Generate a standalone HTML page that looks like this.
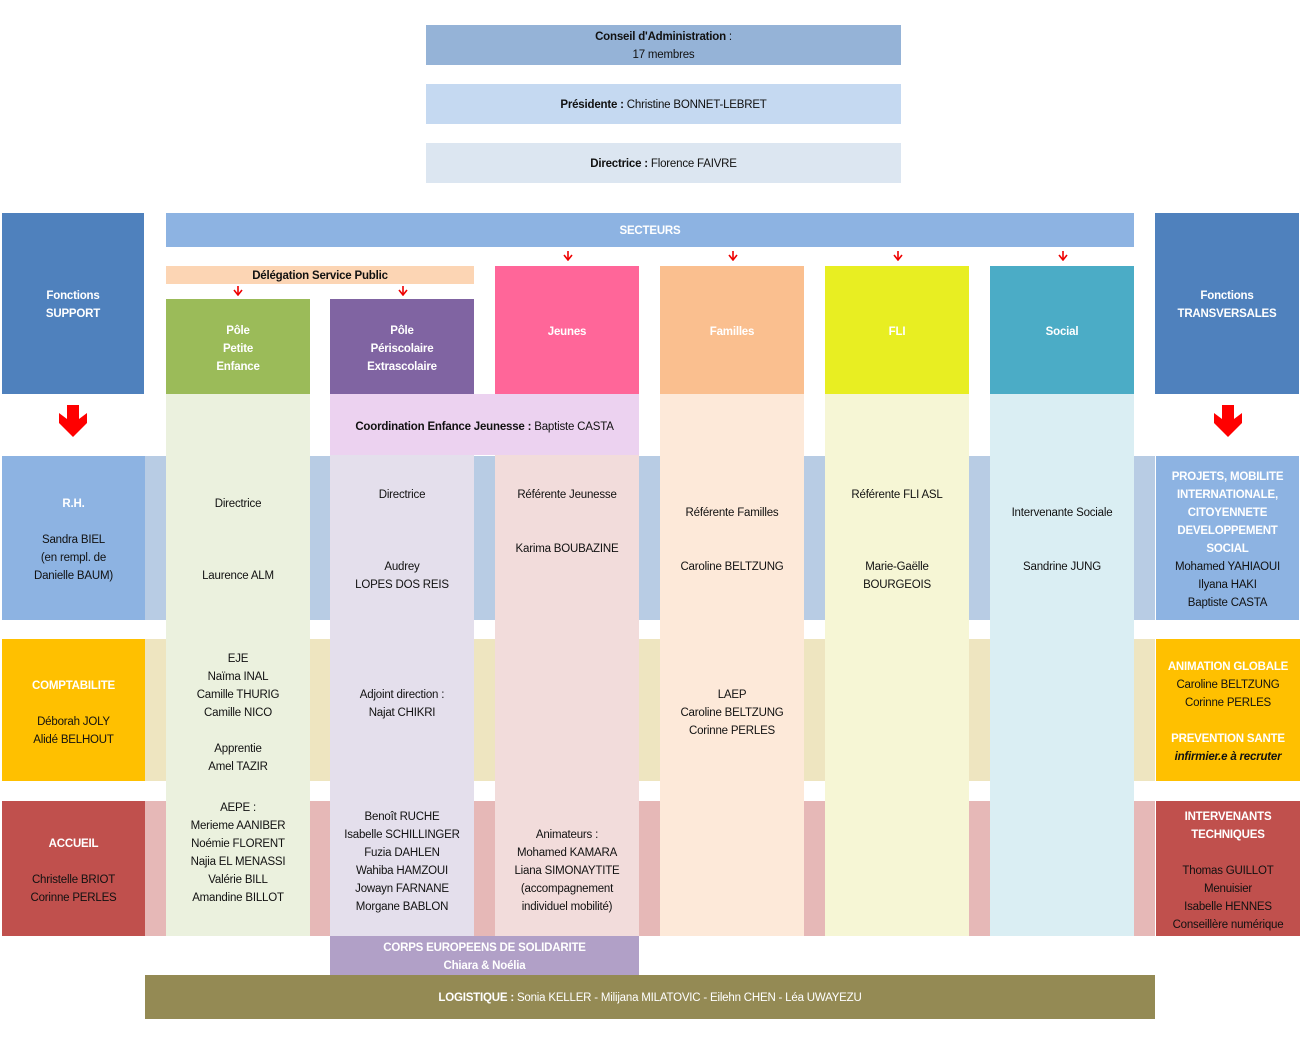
<!DOCTYPE html>
<html><head><meta charset="utf-8"><style>
body{margin:0;width:1302px;height:1059px;background:#fff;position:relative;overflow:hidden;font-family:"Liberation Sans",sans-serif;font-size:11.5px;color:#111;letter-spacing:-0.2px}
.b{position:absolute}
.t{position:absolute;text-align:center;line-height:18px;white-space:nowrap;padding-top:2px}
.w{color:#fff;font-weight:bold}
.bo{font-weight:bold}
.sa{position:absolute}
</style></head><body>
<!-- top -->
<div class="b" style="left:426px;top:25px;width:475px;height:40px;background:#95b3d7"></div>
<div class="t" style="left:426px;width:475px;top:26px"><span class="bo">Conseil d'Administration</span> :<br>17 membres</div>
<div class="b" style="left:426px;top:84px;width:475px;height:40px;background:#c5d9f1"></div>
<div class="t" style="left:426px;width:475px;top:94px"><span class="bo">Présidente :</span> Christine BONNET-LEBRET</div>
<div class="b" style="left:426px;top:143px;width:475px;height:40px;background:#dce6f1"></div>
<div class="t" style="left:426px;width:475px;top:153px"><span class="bo">Directrice :</span> Florence FAIVRE</div>

<!-- bands -->
<div class="b" style="left:145px;top:456px;width:1010px;height:164px;background:#b8cce4"></div>
<div class="b" style="left:145px;top:639px;width:1010px;height:142px;background:#eee5c0"></div>
<div class="b" style="left:145px;top:801px;width:1010px;height:135px;background:#e6b8b7"></div>

<!-- headers -->
<div class="b" style="left:2px;top:213px;width:142px;height:181px;background:#4f81bd"></div>
<div class="t w" style="left:2px;width:142px;top:285px">Fonctions<br>SUPPORT</div>
<div class="b" style="left:1155px;top:213px;width:144px;height:181px;background:#4f81bd"></div>
<div class="t w" style="left:1155px;width:144px;top:285px">Fonctions<br>TRANSVERSALES</div>
<div class="b" style="left:166px;top:213px;width:968px;height:34px;background:#8db3e2"></div>
<div class="t w" style="left:166px;width:968px;top:220px;font-weight:bold">SECTEURS</div>
<div class="b" style="left:166px;top:266px;width:308px;height:18px;background:#fcd5b4"></div>
<div class="t bo" style="left:166px;width:308px;top:265px">Délégation Service Public</div>

<div class="b" style="left:166px;top:299px;width:144px;height:95px;background:#9bbb59"></div>
<div class="t w" style="left:166px;width:144px;top:320px">Pôle<br>Petite<br>Enfance</div>
<div class="b" style="left:330px;top:299px;width:144px;height:95px;background:#8064a2"></div>
<div class="t w" style="left:330px;width:144px;top:320px">Pôle<br>Périscolaire<br>Extrascolaire</div>
<div class="b" style="left:495px;top:266px;width:144px;height:128px;background:#ff6699"></div>
<div class="t w" style="left:495px;width:144px;top:321px">Jeunes</div>
<div class="b" style="left:660px;top:266px;width:144px;height:128px;background:#fabf8f"></div>
<div class="t w" style="left:660px;width:144px;top:321px">Familles</div>
<div class="b" style="left:825px;top:266px;width:144px;height:128px;background:#e8ee22"></div>
<div class="t w" style="left:825px;width:144px;top:321px">FLI</div>
<div class="b" style="left:990px;top:266px;width:144px;height:128px;background:#4bacc6"></div>
<div class="t w" style="left:990px;width:144px;top:321px">Social</div>

<!-- small arrows -->
<svg class="sa" style="left:563px;top:251px" width="10" height="10"><line x1="5" y1="0" x2="5" y2="8" stroke="#e00" stroke-width="1.6"/><polyline points="1,4 5,9 9,4" fill="none" stroke="#e00" stroke-width="1.6"/></svg>
<svg class="sa" style="left:728px;top:251px" width="10" height="10"><line x1="5" y1="0" x2="5" y2="8" stroke="#e00" stroke-width="1.6"/><polyline points="1,4 5,9 9,4" fill="none" stroke="#e00" stroke-width="1.6"/></svg>
<svg class="sa" style="left:893px;top:251px" width="10" height="10"><line x1="5" y1="0" x2="5" y2="8" stroke="#e00" stroke-width="1.6"/><polyline points="1,4 5,9 9,4" fill="none" stroke="#e00" stroke-width="1.6"/></svg>
<svg class="sa" style="left:1058px;top:251px" width="10" height="10"><line x1="5" y1="0" x2="5" y2="8" stroke="#e00" stroke-width="1.6"/><polyline points="1,4 5,9 9,4" fill="none" stroke="#e00" stroke-width="1.6"/></svg>
<svg class="sa" style="left:233px;top:286px" width="10" height="10"><line x1="5" y1="0" x2="5" y2="8" stroke="#e00" stroke-width="1.6"/><polyline points="1,4 5,9 9,4" fill="none" stroke="#e00" stroke-width="1.6"/></svg>
<svg class="sa" style="left:398px;top:286px" width="10" height="10"><line x1="5" y1="0" x2="5" y2="8" stroke="#e00" stroke-width="1.6"/><polyline points="1,4 5,9 9,4" fill="none" stroke="#e00" stroke-width="1.6"/></svg>
<!-- big arrows -->
<svg class="b" style="left:58px;top:405px" width="30" height="32"><polygon points="9,0 21,0 21,14 29,8 29,18 15,32 1,18 1,8 9,14" fill="#f00"/></svg>
<svg class="b" style="left:1213px;top:405px" width="30" height="32"><polygon points="9,0 21,0 21,14 29,8 29,18 15,32 1,18 1,8 9,14" fill="#f00"/></svg>

<!-- column bodies -->
<div class="b" style="left:166px;top:394px;width:144px;height:542px;background:#ebf1de"></div>
<div class="b" style="left:330px;top:394px;width:309px;height:61px;background:#ecd2f0"></div>
<div class="t" style="left:330px;width:309px;top:416px"><span class="bo">Coordination Enfance Jeunesse :</span> Baptiste CASTA</div>
<div class="b" style="left:330px;top:455px;width:144px;height:481px;background:#e4dfec"></div>
<div class="b" style="left:495px;top:455px;width:144px;height:481px;background:#f2dcdb"></div>
<div class="b" style="left:660px;top:394px;width:144px;height:542px;background:#fde9d9"></div>
<div class="b" style="left:825px;top:394px;width:144px;height:542px;background:#f6f6d5"></div>
<div class="b" style="left:990px;top:394px;width:144px;height:542px;background:#daeef3"></div>

<!-- column text -->
<div class="t" style="left:166px;width:144px;top:493px">Directrice<br><br><br><br>Laurence ALM</div>
<div class="t" style="left:166px;width:144px;top:648px">EJE<br>Naïma INAL<br>Camille THURIG<br>Camille NICO<br><br>Apprentie<br>Amel TAZIR</div>
<div class="t" style="left:166px;width:144px;top:797px">AEPE :<br>Merieme AANIBER<br>Noémie FLORENT<br>Najia EL MENASSI<br>Valérie BILL<br>Amandine BILLOT</div>
<div class="t" style="left:330px;width:144px;top:484px">Directrice<br><br><br><br>Audrey<br>LOPES DOS REIS</div>
<div class="t" style="left:330px;width:144px;top:684px">Adjoint direction :<br>Najat CHIKRI</div>
<div class="t" style="left:330px;width:144px;top:806px">Benoît RUCHE<br>Isabelle SCHILLINGER<br>Fuzia DAHLEN<br>Wahiba HAMZOUI<br>Jowayn FARNANE<br>Morgane BABLON</div>
<div class="t" style="left:495px;width:144px;top:484px">Référente Jeunesse<br><br><br>Karima BOUBAZINE</div>
<div class="t" style="left:495px;width:144px;top:824px">Animateurs :<br>Mohamed KAMARA<br>Liana SIMONAYTITE<br>(accompagnement<br>individuel mobilité)</div>
<div class="t" style="left:660px;width:144px;top:502px">Référente Familles<br><br><br>Caroline BELTZUNG</div>
<div class="t" style="left:660px;width:144px;top:684px">LAEP<br>Caroline BELTZUNG<br>Corinne PERLES</div>
<div class="t" style="left:825px;width:144px;top:484px">Référente FLI ASL<br><br><br><br>Marie-Gaëlle<br>BOURGEOIS</div>
<div class="t" style="left:990px;width:144px;top:502px">Intervenante Sociale<br><br><br>Sandrine JUNG</div>

<!-- left boxes -->
<div class="b" style="left:2px;top:456px;width:143px;height:164px;background:#8db3e2"></div>
<div class="t" style="left:2px;width:143px;top:493px"><span class="w">R.H.</span><br><br>Sandra BIEL<br>(en rempl. de<br>Danielle BAUM)</div>
<div class="b" style="left:2px;top:639px;width:143px;height:142px;background:#ffc000"></div>
<div class="t" style="left:2px;width:143px;top:675px"><span class="w">COMPTABILITE</span><br><br>Déborah JOLY<br>Alidé BELHOUT</div>
<div class="b" style="left:2px;top:801px;width:143px;height:135px;background:#c0504d"></div>
<div class="t" style="left:2px;width:143px;top:833px"><span class="w">ACCUEIL</span><br><br>Christelle BRIOT<br>Corinne PERLES</div>

<!-- right boxes -->
<div class="b" style="left:1156px;top:456px;width:143px;height:164px;background:#8db3e2"></div>
<div class="t" style="left:1156px;width:143px;top:466px"><span class="w">PROJETS, MOBILITE<br>INTERNATIONALE,<br>CITOYENNETE<br>DEVELOPPEMENT<br>SOCIAL</span><br>Mohamed YAHIAOUI<br>Ilyana HAKI<br>Baptiste CASTA</div>
<div class="b" style="left:1156px;top:639px;width:144px;height:142px;background:#ffc000"></div>
<div class="t" style="left:1156px;width:144px;top:656px"><span class="w">ANIMATION GLOBALE</span><br>Caroline BELTZUNG<br>Corinne PERLES<br><br><span class="w">PREVENTION SANTE</span><br><b><i>infirmier.e à recruter</i></b></div>
<div class="b" style="left:1156px;top:801px;width:144px;height:135px;background:#c0504d"></div>
<div class="t" style="left:1156px;width:144px;top:806px"><span class="w">INTERVENANTS<br>TECHNIQUES</span><br><br>Thomas GUILLOT<br>Menuisier<br>Isabelle HENNES<br>Conseillère numérique</div>

<!-- bottom -->
<div class="b" style="left:330px;top:936px;width:309px;height:39px;background:#b1a0c7"></div>
<div class="t w" style="left:330px;width:309px;top:937px">CORPS EUROPEENS DE SOLIDARITE<br>Chiara &amp; Noélia</div>
<div class="b" style="left:145px;top:975px;width:1010px;height:44px;background:#948a54"></div>
<div class="t" style="left:145px;width:1010px;top:987px;color:#fff"><b>LOGISTIQUE :</b> Sonia KELLER - Milijana MILATOVIC - Eilehn CHEN - Léa UWAYEZU</div>
</body></html>
